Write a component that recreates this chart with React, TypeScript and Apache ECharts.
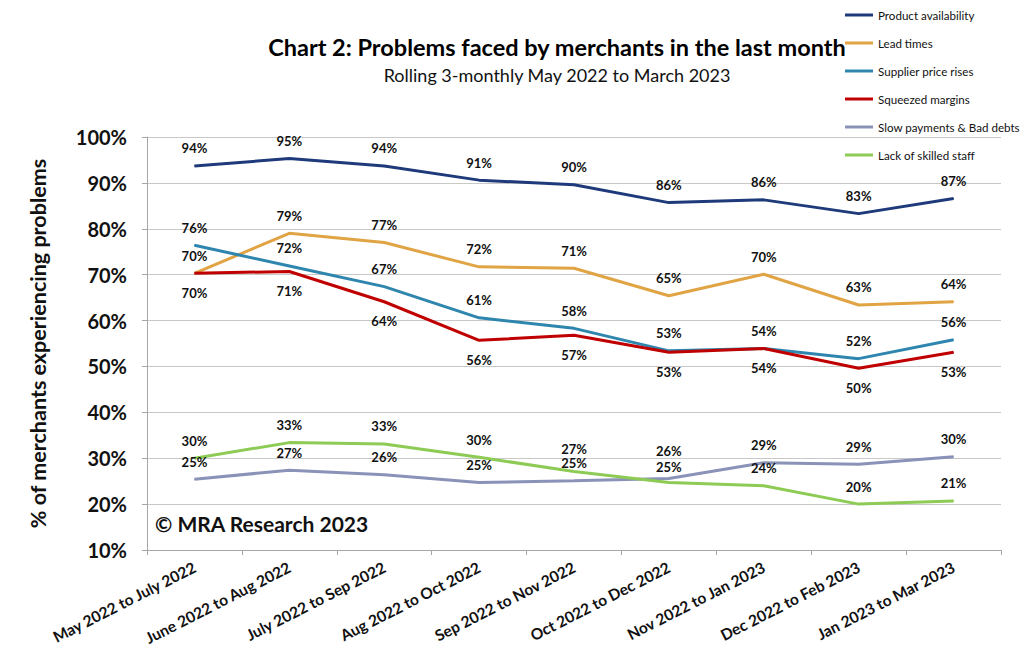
import React, { useEffect, useRef } from "react";
import * as echarts from "echarts";

const categories = [
  "May 2022 to July 2022",
  "June 2022 to Aug 2022",
  "July 2022 to Sep 2022",
  "Aug 2022 to Oct 2022",
  "Sep 2022 to Nov 2022",
  "Oct 2022 to Dec 2022",
  "Nov 2022 to Jan 2023",
  "Dec 2022 to Feb 2023",
  "Jan 2023 to Mar 2023",
];

const productAvailability = [93.7, 95.3, 93.7, 90.6, 89.6, 85.7, 86.3, 83.3, 86.6];
const leadTimes = [70.3, 79.0, 77.0, 71.7, 71.4, 65.4, 70.1, 63.4, 64.1];
const supplierPriceRises = [76.4, 71.9, 67.4, 60.6, 58.3, 53.4, 53.9, 51.7, 55.8];
const squeezedMargins = [70.3, 70.7, 64.1, 55.7, 56.8, 53.1, 53.9, 49.6, 53.1];
const slowPayments = [25.4, 27.4, 26.4, 24.7, 25.1, 25.6, 29.0, 28.7, 30.3];
const lackOfSkilledStaff = [30.0, 33.4, 33.1, 30.2, 27.1, 24.7, 24.0, 20.0, 20.7];

const FONT = "Lato, 'Open Sans', sans-serif";

// per-point vertical label nudges (px), like manually placed labels in the original
const labelNudges: Record<string, Record<number, number>> = {
  "Slow payments & Bad debts": { 5: -10 },
  "Lack of skilled staff": { 4: -5, 5: 2 },
};

export default function App() {
  const ref = useRef<HTMLDivElement>(null);
  useEffect(() => {
    document.body.style.margin = "0";
    if (!ref.current) return;
    const chart = echarts.init(ref.current, null, { renderer: "svg" });

    const mk = (name: string, data: number[], color: string, pos: "top" | "bottom") => {
      const nudges = labelNudges[name] || {};
      return {
        name,
        type: "line",
        data: data.map((v, i) =>
          nudges[i] !== undefined ? { value: v, label: { offset: [0, nudges[i]] } } : v
        ),
        symbol: "circle",
        symbolSize: 1,
        showSymbol: true,
        itemStyle: { color },
        lineStyle: { color, width: 3 },
        label: {
          show: true,
          position: pos,
          distance: pos === "top" ? 10 : 12,
          color: "#111",
          fontFamily: FONT,
          fontWeight: "bold",
          fontSize: 13,
          lineHeight: 14,
          formatter: (p: any) => Math.round(p.value) + "%",
        },
        emphasis: { disabled: true },
      };
    };

    chart.setOption({
      animation: false,
      backgroundColor: "#fff",
      textStyle: { fontFamily: FONT },
      title: [
        {
          text: "Chart 2: Problems faced by merchants in the last month",
          left: 552,
          textAlign: "center",
          top: 30,
          textStyle: { fontFamily: FONT, fontWeight: "bold", fontSize: 23.5, color: "#000" },
        },
        {
          text: "Rolling 3-monthly May 2022 to March 2023",
          left: 552,
          textAlign: "center",
          top: 61,
          textStyle: { fontFamily: FONT, fontWeight: "normal", fontSize: 18, color: "#111" },
        },
      ],
      legend: {
        orient: "vertical",
        left: 840,
        top: 3,
        itemWidth: 28,
        itemHeight: 3,
        itemGap: 14,
        icon: "rect",
        textStyle: { fontFamily: FONT, fontSize: 11.6, color: "#111", lineHeight: 14 },
        data: [
          "Product availability",
          "Lead times",
          "Supplier price rises",
          "Squeezed margins",
          "Slow payments & Bad debts",
          "Lack of skilled staff",
        ],
      },
      grid: { left: 147, right: 23, top: 137, bottom: 117 },
      xAxis: {
        type: "category",
        data: categories,
        boundaryGap: true,
        axisLine: { show: true, lineStyle: { color: "#A6A6A6", width: 1 } },
        axisTick: { show: true, length: 5, lineStyle: { color: "#A6A6A6" } },
        axisLabel: {
          rotate: 27,
          interval: 0,
          margin: 16,
          color: "#111",
          fontFamily: FONT,
          fontWeight: "bold",
          fontSize: 15.5,
        },
      },
      yAxis: {
        type: "value",
        min: 10,
        max: 100,
        interval: 10,
        name: "% of merchants experiencing problems",
        nameLocation: "middle",
        nameGap: 98,
        nameTextStyle: { fontFamily: FONT, fontWeight: "bold", fontSize: 21.5, color: "#111" },
        axisLine: { show: true, lineStyle: { color: "#A6A6A6", width: 1 } },
        axisTick: { show: true, inside: false, length: 5, lineStyle: { color: "#A6A6A6" } },
        splitLine: { show: true, lineStyle: { color: "#C8C8C8", width: 1 } },
        axisLabel: {
          formatter: "{value}%",
          margin: 20,
          color: "#111",
          fontFamily: FONT,
          fontWeight: "bold",
          fontSize: 20,
        },
      },
      graphic: [
        {
          type: "text",
          left: 155,
          top: 513,
          style: {
            text: "© MRA Research 2023",
            fontFamily: FONT,
            fontWeight: "bold",
            fontSize: 21,
            fill: "#111",
          },
        },
      ],
      series: [
        mk("Product availability", productAvailability, "#1F3A7A", "top"),
        mk("Lead times", leadTimes, "#E0A445", "top"),
        mk("Supplier price rises", supplierPriceRises, "#2E86AE", "top"),
        mk("Squeezed margins", squeezedMargins, "#C00000", "bottom"),
        mk("Slow payments & Bad debts", slowPayments, "#8A92B8", "top"),
        mk("Lack of skilled staff", lackOfSkilledStaff, "#8DCB55", "top"),
      ],
    });
    return () => chart.dispose();
  }, []);
  return <div ref={ref} style={{ width: 1024, height: 667 }} />;
}
